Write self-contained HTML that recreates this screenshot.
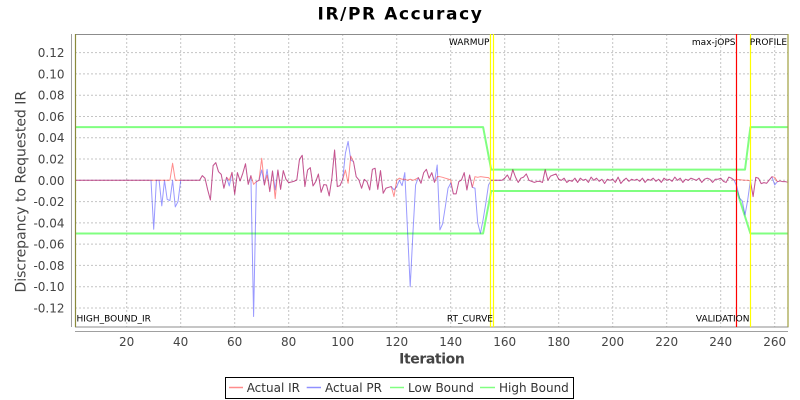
<!DOCTYPE html>
<html>
<head>
<meta charset="utf-8">
<style>
html,body{margin:0;padding:0;background:#fff;}
svg{display:block;}
text{font-family:"DejaVu Sans","Liberation Sans",sans-serif;}
</style>
</head>
<body>
<svg width="800" height="400" viewBox="0 0 800 400" xmlns="http://www.w3.org/2000/svg">
<rect x="0" y="0" width="800" height="400" fill="#ffffff"/>
<!-- Title -->
<text x="400.5" y="19.5" text-anchor="middle" font-size="17" font-weight="bold" letter-spacing="1.6" fill="#000">IR/PR Accuracy</text>

<!-- plot background -->
<rect x="75" y="34" width="713" height="293" fill="#ffffff"/>

<!-- gridlines -->
<g stroke="#c4c4c4" stroke-width="1" stroke-dasharray="2,2" fill="none">
<line x1="75" y1="52.6" x2="788" y2="52.6"/>
<line x1="75" y1="73.9" x2="788" y2="73.9"/>
<line x1="75" y1="95.2" x2="788" y2="95.2"/>
<line x1="75" y1="116.5" x2="788" y2="116.5"/>
<line x1="75" y1="137.7" x2="788" y2="137.7"/>
<line x1="75" y1="159.0" x2="788" y2="159.0"/>
<line x1="75" y1="180.3" x2="788" y2="180.3"/>
<line x1="75" y1="201.6" x2="788" y2="201.6"/>
<line x1="75" y1="222.9" x2="788" y2="222.9"/>
<line x1="75" y1="244.1" x2="788" y2="244.1"/>
<line x1="75" y1="265.4" x2="788" y2="265.4"/>
<line x1="75" y1="286.7" x2="788" y2="286.7"/>
<line x1="75" y1="308.0" x2="788" y2="308.0"/>
<line x1="126.7" y1="34" x2="126.7" y2="327"/>
<line x1="180.7" y1="34" x2="180.7" y2="327"/>
<line x1="234.7" y1="34" x2="234.7" y2="327"/>
<line x1="288.7" y1="34" x2="288.7" y2="327"/>
<line x1="342.7" y1="34" x2="342.7" y2="327"/>
<line x1="396.7" y1="34" x2="396.7" y2="327"/>
<line x1="450.7" y1="34" x2="450.7" y2="327"/>
<line x1="504.7" y1="34" x2="504.7" y2="327"/>
<line x1="558.7" y1="34" x2="558.7" y2="327"/>
<line x1="612.7" y1="34" x2="612.7" y2="327"/>
<line x1="666.7" y1="34" x2="666.7" y2="327"/>
<line x1="720.7" y1="34" x2="720.7" y2="327"/>
<line x1="774.7" y1="34" x2="774.7" y2="327"/>
</g>

<!-- data series -->
<g transform="matrix(2.7 0 0 -1.064 72.7 180.3)" fill="none" stroke-linejoin="round">
<!-- High Bound -->
<polyline vector-effect="non-scaling-stroke" stroke="#80ff80" stroke-width="2"
 points="1,50 152,50 155,10 249,10 251,50 265,50"/>
<!-- Low Bound -->
<polyline vector-effect="non-scaling-stroke" stroke="#80ff80" stroke-width="2"
 points="1,-50 152,-50 155,-10 246,-10 251,-50 265,-50"/>
<!-- Actual PR -->
<polyline vector-effect="non-scaling-stroke" stroke="#0000ff" stroke-opacity="0.4" stroke-width="1"
 points="1,0 29,0 30,-46 31,0 32,0 33,-24 34,0 35,-18 36,-19 37,0 38,-25 39,-20 40,0 47,0 48,4.4 49,1.9 50,-9 51,-18.5 52,13.8 53,16.6 54,8.1 55,5.6 56,-7.5 57,2.8 58,-5.3 59,7.5 60,-13.1 61,7.2 62,-0.6 63,6.6 64,15.6 65,-3.8 66,4.4 67,-128 68,-1.3 69,0 70,9.7 71,-4.4 72,10.3 73,-10.6 74,8.8 75,-9 76,9.7 77,-8.5 78,9.1 79,0.9 80,-2.2 81,-1.6 82,-0.9 83,0.3 84,19.7 85,23.5 86,-5.9 87,9.7 88,11.9 89,-5.3 90,-1.3 91,5.9 92,-11.3 93,-4.1 94,-4.4 95,-14.7 96,2.2 97,28.5 98,-5.9 99,-5 100,0.9 101,25.4 102,36.6 103,19.1 104,17.5 105,3.4 106,0.3 107,-7.5 108,0.9 109,-1.3 110,-9.1 111,10.3 112,11.3 113,-8.5 114,9.1 115,-12.2 116,-7.5 117,-6.6 118,-5.9 119,-9 120,-6 121,0 122,-5 123,7.2 124,-46.6 125,-100 126,-50 127,-4.4 128,2.5 129,-2.8 130,7.2 131,10.3 132,1.9 133,7.2 134,-1.9 135,14.4 136,-46.6 137,-41 138,-25 139,-7.5 140,-2.8 141,-12.8 142,-12.8 143,-1.3 144,0.3 145,7.2 146,-9.1 147,5 148,-6.6 149,-7.5 150,-40 151,-49.8 152,-37 153,-21.6 154,-4.4 155,0 156,0 157,0 158,0 159,0 160,2 161,5 162,0 163,10 164,3 165,-2 166,2 167,3 168,6 169,0 170,-1 171,-2 172,-1 173,-1 174,-2 175,10 176,0 177,4 178,5 179,6 180,1 181,0 182,2 183,-2 184,0 185,-1 186,2 187,-2 188,2 189,0 190,1 191,-2 192,3 193,0 194,2 195,-1 196,1 197,-3 198,1 199,0 200,1 201,-2 202,3 203,-3 204,0 205,2 206,-1 207,1 208,0 209,1 210,-1 211,2 212,-2 213,1 214,0 215,2 216,-1 217,1 218,-2 219,2 220,0 221,1 222,-1 223,3 224,0 225,2 226,-2 227,1 228,0 229,2 230,1 231,0 232,2 233,-2 234,1 235,2 236,1 237,-2 238,1 239,1 240,2 241,-1 242,-2 243,3 244,2 245,0 246,-6 247,-16.9 248,-19.4 249,-32.6 250,-18.5 251,0 252,-15.3 253,2.8 254,1.9 255,-3.1 256,-2.2 257,-2.8 258,0.3 259,3.4 260,-4.4 261,-1.3 262,-0.6 263,-1.3 264,-1.3 265,-1.9"/>
<!-- Actual IR -->
<polyline vector-effect="non-scaling-stroke" stroke="#ff0000" stroke-opacity="0.45" stroke-width="1"
 points="1,0 36,0 37,16 38,0 47,0 48,4.4 49,1.9 50,-9 51,-18.5 52,13.8 53,16.6 54,8.1 55,5.6 56,-7.5 57,2.8 58,0 59,7.5 60,-13.1 61,7.2 62,-0.6 63,6.6 64,15.6 65,-3.8 66,4.4 67,-3.8 68,-1.3 69,0 70,20.7 71,-4.4 72,5 73,-10.6 74,8.8 75,-17.2 76,9.7 77,-8.5 78,9.1 79,0.9 80,-2.2 81,-1.6 82,-0.9 83,0.3 84,19.7 85,23.5 86,-5.9 87,9.7 88,11.9 89,-5.3 90,-1.3 91,5.9 92,-11.3 93,-4.1 94,-4.4 95,-14.7 96,2.2 97,28.5 98,-5.9 99,-5 100,0.9 101,9.7 102,-2.8 103,22.8 104,17.5 105,3.4 106,0.3 107,-7.5 108,0.9 109,-1.3 110,-9.1 111,10.3 112,11.3 113,-8.5 114,9.1 115,-12.2 116,-7.5 117,-6.6 118,-5.9 119,-15.3 120,0 121,2 122,1 123,1 124,0 125,1 126,0 127,1 128,2.5 129,-2.8 130,7.2 131,10.3 132,1.9 133,7.2 134,-1.9 135,3.4 136,3.4 137,2.8 138,2 139,1.2 140,0.3 141,-12.8 142,-12.8 143,-1.3 144,0.3 145,7.2 146,-9.1 147,5 148,-6.6 149,3.4 150,2.8 151,3.4 152,3.1 153,2.8 154,2.5 155,0 156,0 157,0 158,0 159,0 160,2 161,5 162,0 163,10 164,3 165,-2 166,2 167,3 168,6 169,0 170,-1 171,-2 172,-1 173,-1 174,-2 175,10 176,0 177,4 178,5 179,6 180,1 181,0 182,2 183,-2 184,0 185,-1 186,2 187,-2 188,2 189,0 190,1 191,-2 192,3 193,0 194,2 195,-1 196,1 197,-3 198,1 199,0 200,1 201,-2 202,3 203,-3 204,0 205,2 206,-1 207,1 208,0 209,1 210,-1 211,2 212,-2 213,1 214,0 215,2 216,-1 217,1 218,-2 219,2 220,0 221,1 222,-1 223,3 224,0 225,2 226,-2 227,1 228,0 229,2 230,1 231,0 232,2 233,-2 234,1 235,2 236,1 237,-2 238,1 239,1 240,2 241,-1 242,-2 243,3 244,2 245,0 246,0.6 247,0.6 248,0.3 249,0 250,0 251,-0.6 252,-15.3 253,2.8 254,1.9 255,-3.1 256,-2.2 257,-2.8 258,0.3 259,3.4 260,2.8 261,-1.3 262,-0.6 263,-1.3 264,-1.3 265,-1.9"/>
</g>

<!-- plot outline -->
<rect x="75.5" y="34.5" width="712.5" height="292.5" fill="none" stroke="#8c8c8c" stroke-width="1"/>

<!-- markers -->
<line x1="75.5" y1="34" x2="75.5" y2="327" stroke="#8a8a3c" stroke-width="1.2"/>
<line x1="490.5" y1="34" x2="490.5" y2="327" stroke="#ffff00" stroke-width="1.2"/>
<line x1="493.5" y1="34" x2="493.5" y2="327" stroke="#ffff00" stroke-width="1.2"/>
<line x1="736.5" y1="34" x2="736.5" y2="327" stroke="#ff0000" stroke-width="1.2"/>
<line x1="750.5" y1="34" x2="750.5" y2="327" stroke="#ffff00" stroke-width="1.2"/>
<line x1="788" y1="34" x2="788" y2="327" stroke="#a0a040" stroke-width="1.2"/>

<g font-size="9" fill="#000">
<text x="489.5" y="45" text-anchor="end">WARMUP</text>
<text x="735.5" y="45" text-anchor="end">max-jOPS</text>
<text x="787" y="45" text-anchor="end">PROFILE</text>
<text x="76.5" y="321.5">HIGH_BOUND_IR</text>
<text x="493" y="321.5" text-anchor="end">RT_CURVE</text>
<text x="749.5" y="321.5" text-anchor="end">VALIDATION</text>
</g>

<!-- axes lines -->
<line x1="71.5" y1="34" x2="71.5" y2="327" stroke="#a0a0a0" stroke-width="1"/>
<line x1="75" y1="331.5" x2="788" y2="331.5" stroke="#a0a0a0" stroke-width="1"/>

<!-- y tick labels -->
<g font-size="12" fill="#444" text-anchor="end">
<text x="64.5" y="57.1">0.12</text>
<text x="64.5" y="78.4">0.10</text>
<text x="64.5" y="99.7">0.08</text>
<text x="64.5" y="121.0">0.06</text>
<text x="64.5" y="142.2">0.04</text>
<text x="64.5" y="163.5">0.02</text>
<text x="64.5" y="184.8">0.00</text>
<text x="64.5" y="206.1">-0.02</text>
<text x="64.5" y="227.4">-0.04</text>
<text x="64.5" y="248.6">-0.06</text>
<text x="64.5" y="269.9">-0.08</text>
<text x="64.5" y="291.2">-0.10</text>
<text x="64.5" y="312.5">-0.12</text>
</g>

<!-- x tick labels -->
<g font-size="12" fill="#444" text-anchor="middle">
<text x="126.7" y="346">20</text>
<text x="180.7" y="346">40</text>
<text x="234.7" y="346">60</text>
<text x="288.7" y="346">80</text>
<text x="342.7" y="346">100</text>
<text x="396.7" y="346">120</text>
<text x="450.7" y="346">140</text>
<text x="504.7" y="346">160</text>
<text x="558.7" y="346">180</text>
<text x="612.7" y="346">200</text>
<text x="666.7" y="346">220</text>
<text x="720.7" y="346">240</text>
<text x="774.7" y="346">260</text>
</g>

<!-- axis labels -->
<text x="431.8" y="363.7" text-anchor="middle" font-size="14" font-weight="bold" letter-spacing="-0.4" fill="#444">Iteration</text>
<text transform="translate(25.5,191.7) rotate(-90)" x="0" y="0" text-anchor="middle" font-size="14" fill="#444">Discrepancy to Requested IR</text>

<!-- legend -->
<rect x="225.5" y="377.5" width="348" height="21" fill="#fff" stroke="#000" stroke-width="1"/>
<g stroke-width="1.5">
<line x1="229" y1="387.5" x2="243" y2="387.5" stroke="#ff8c8c"/>
<line x1="306.7" y1="387.5" x2="321" y2="387.5" stroke="#9090ff"/>
<line x1="390" y1="387.5" x2="404" y2="387.5" stroke="#80ff80"/>
<line x1="480" y1="387.5" x2="495" y2="387.5" stroke="#80ff80"/>
</g>
<g font-size="12" fill="#333">
<text x="246.7" y="391.8">Actual IR</text>
<text x="325" y="391.8">Actual PR</text>
<text x="408" y="391.8">Low Bound</text>
<text x="499" y="391.8">High Bound</text>
</g>
</svg>
</body>
</html>
